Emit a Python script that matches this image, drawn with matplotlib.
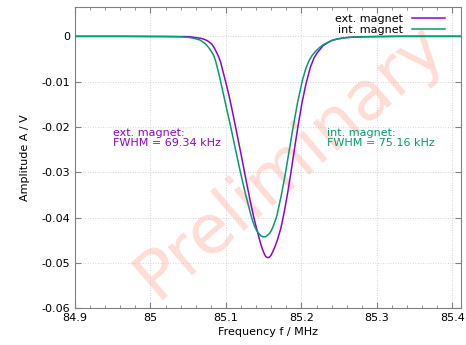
import matplotlib
matplotlib.use("Agg")
import matplotlib.pyplot as plt
from matplotlib.ticker import MultipleLocator, FuncFormatter

# ── data (frequency in MHz, amplitude in V) ──────────────────────────────────
ext_freq = [84.900, 84.959, 85.019, 85.045, 85.0521, 85.061, 85.0667, 85.072,
            85.0767, 85.081, 85.0844, 85.0875, 85.0903, 85.093, 85.096,
            85.100, 85.104, 85.1085, 85.114, 85.120, 85.1264, 85.132,
            85.1366, 85.1397, 85.1427, 85.1456, 85.1485, 85.1509, 85.1529,
            85.1552, 85.1576, 85.1596, 85.1618, 85.1649, 85.168, 85.1728,
            85.1775, 85.1821, 85.1861, 85.190, 85.195, 85.2007, 85.206,
            85.2119, 85.2166, 85.2206, 85.2246, 85.2285, 85.2339, 85.2405,
            85.2471, 85.2577, 85.271, 85.2909, 85.3306, 85.411]
ext_amp = [0.0, 0.0, -0.00004, -0.00005, -0.00007, -0.0003, -0.00044, -0.0007,
           -0.0011, -0.0017, -0.0025, -0.0035, -0.0045, -0.0057, -0.0077,
           -0.0103, -0.0130, -0.0165, -0.0210, -0.0260, -0.0315, -0.0362,
           -0.0397, -0.0418, -0.0437, -0.0455, -0.0470, -0.0480, -0.0486,
           -0.0488, -0.0487, -0.0483, -0.0476, -0.0464, -0.0450, -0.0423,
           -0.0385, -0.0342, -0.0300, -0.0257, -0.0203, -0.0147, -0.0105,
           -0.0068, -0.0048, -0.0037, -0.0029, -0.0021, -0.0015, -0.0009,
           -0.0006, -0.0003, -0.00015, -0.00007, 0.0, 0.0]

int_freq = [84.900, 84.959, 85.019, 85.0389, 85.0521, 85.0588, 85.0654,
            85.070, 85.0743, 85.0777, 85.0809, 85.084, 85.0866, 85.091,
            85.095, 85.0999, 85.1061, 85.1125, 85.1188, 85.1255, 85.1321,
            85.135, 85.1379, 85.141, 85.1436, 85.1463, 85.1493, 85.1523,
            85.1549, 85.1576, 85.1605, 85.1635, 85.1671, 85.1728, 85.1785,
            85.1838, 85.1883, 85.195, 85.2016, 85.206, 85.2103, 85.2139,
            85.2172, 85.2206, 85.2246, 85.2285, 85.2339, 85.2405, 85.2471,
            85.2577, 85.271, 85.2909, 85.3306, 85.411]
int_amp = [0.0, 0.0, -0.00004, -0.0001, -0.00026, -0.0005, -0.0008, -0.0013,
           -0.0019, -0.0026, -0.0034, -0.0043, -0.0056, -0.0085, -0.0115,
           -0.0152, -0.0198, -0.0248, -0.0297, -0.0345, -0.0388, -0.0405,
           -0.0419, -0.0429, -0.0435, -0.0440, -0.0442, -0.0442, -0.0439,
           -0.0435, -0.0427, -0.0415, -0.0398, -0.0355, -0.0305, -0.0252,
           -0.0207, -0.0145, -0.0095, -0.0070, -0.0053, -0.0043, -0.0036,
           -0.0030, -0.0024, -0.0019, -0.0014, -0.0009, -0.0006, -0.0003,
           -0.00015, -0.00007, 0.0, 0.0]

series_labels = ["ext. magnet", "int. magnet"]
fwhm_khz = [69.34, 75.16]

C_PURPLE = "#9400d3"
C_GREEN = "#009e73"

plt.rcParams.update({
    "font.family": "DejaVu Sans",
    "font.size": 8,
    "axes.unicode_minus": False,
})

fig = plt.figure(figsize=(4.66, 3.45), dpi=100)
ax = fig.add_axes([0.1609, 0.1061, 0.8277, 0.8727])

ax.plot(ext_freq, ext_amp, color=C_PURPLE, lw=1.1, label=series_labels[0], zorder=4)
ax.plot(int_freq, int_amp, color=C_GREEN, lw=1.1, label=series_labels[1], zorder=4)

ax.set_xlim(84.9, 85.411)
ax.set_ylim(-0.06, 0.0064)
ax.xaxis.set_major_locator(MultipleLocator(0.1))
ax.xaxis.set_minor_locator(MultipleLocator(0.02))
ax.yaxis.set_major_locator(MultipleLocator(0.01))
fmt = FuncFormatter(lambda v, p: "%g" % round(v, 4))
ax.xaxis.set_major_formatter(fmt)
ax.yaxis.set_major_formatter(fmt)
ax.tick_params(which="both", direction="in", top=True, right=True,
               color="#808080", labelcolor="black")
ax.tick_params(which="major", length=4)
ax.tick_params(which="minor", length=2)
for s in ax.spines.values():
    s.set_color("#808080")
    s.set_linewidth(0.8)
ax.grid(True, which="major", color="#c8c8c8", linestyle=(0, (1, 2)), lw=0.6, zorder=0)

ax.set_xlabel("Frequency f / MHz", labelpad=3)
ax.set_ylabel("Amplitude A / V", labelpad=8)

# watermark
ax.text(0.557, 0.49, "Preliminary", transform=ax.transAxes, fontsize=49,
        color="#ffdcd4", rotation=40.6, ha="center", va="center", zorder=1)

ax.text(84.95, -0.0225, "ext. magnet:\nFWHM = %.2f kHz" % fwhm_khz[0],
        color=C_PURPLE, fontsize=8, va="center", linespacing=1.0)
ax.text(85.234, -0.0225, "int. magnet:\nFWHM = %.2f kHz" % fwhm_khz[1],
        color=C_GREEN, fontsize=8, va="center", linespacing=1.0)

ax.legend(loc="upper right", bbox_to_anchor=(0.977, 1.0), frameon=False,
          markerfirst=False, handlelength=3.0, handletextpad=0.8,
          labelspacing=0.1, borderaxespad=0.2, fontsize=8)

fig.savefig("out.png", dpi=100)
